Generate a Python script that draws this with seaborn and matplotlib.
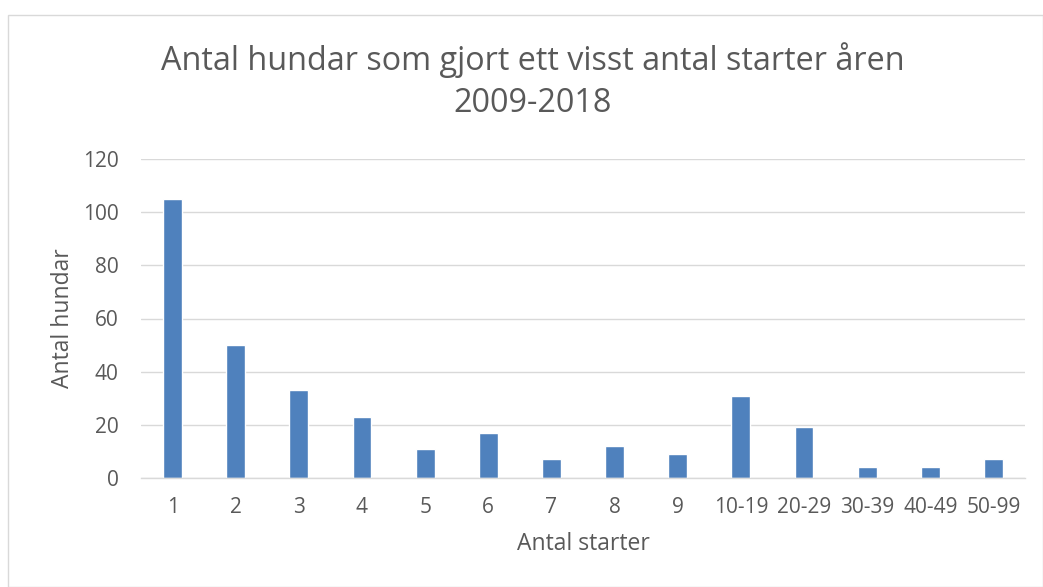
import matplotlib
matplotlib.use("Agg")
import matplotlib.pyplot as plt
import seaborn as sns
import pandas as pd

# -------------------------------
# Data
# -------------------------------
categories = ["1", "2", "3", "4", "5", "6", "7", "8", "9",
              "10-19", "20-29", "30-39", "40-49", "50-99"]
counts = [105, 50, 33, 23, 11, 17, 7, 12, 9, 31, 19, 4, 4, 7]
y_ticks = [0, 20, 40, 60, 80, 100, 120]

df = pd.DataFrame({"Antal starter": categories, "Antal hundar": counts})

# -------------------------------
# Style
# -------------------------------
sns.set_style("white")
plt.rcParams["font.family"] = ["Open Sans", "DejaVu Sans"]
text_color = "#595959"
grid_color = "#D9D9D9"

fig = plt.figure(figsize=(10.43, 5.87), dpi=100)
ax = fig.add_axes([141 / 1043, 1 - 478 / 587, (1025 - 141) / 1043, (478 - 159) / 587])

sns.barplot(data=df, x="Antal starter", y="Antal hundar", color="#4F81BD",
            width=0.3, ax=ax, saturation=1)

ax.set_ylim(0, 120)
ax.set_yticks(y_ticks)
ax.set_xlim(-0.5, len(categories) - 0.5)
ax.yaxis.grid(True, color=grid_color, linewidth=1)
ax.set_axisbelow(True)
for s in ["top", "right", "left"]:
    ax.spines[s].set_visible(False)
ax.spines["bottom"].set_color(grid_color)
ax.spines["bottom"].set_linewidth(1)
ax.tick_params(axis="both", length=0, labelsize=15, colors=text_color)
ax.tick_params(axis="y", pad=16)
ax.tick_params(axis="x", pad=14)

ax.set_xlabel("Antal starter", fontsize=16.5, color=text_color, labelpad=10)
ax.set_ylabel("Antal hundar", fontsize=16.5, color=text_color, labelpad=6)

fig.text(0.511, 1 - 60 / 587, "Antal hundar som gjort ett visst antal starter åren",
         ha="center", va="center", fontsize=23.3, color=text_color)
fig.text(0.511, 1 - 103 / 587, "2009-2018",
         ha="center", va="center", fontsize=23.3, color=text_color)

# chart border
fig.patches.append(plt.Rectangle((8 / 1043, 0), 1 - 8 / 1043, 1 - 15 / 587,
                                 transform=fig.transFigure, fill=False,
                                 edgecolor="#D9D9D9", linewidth=1))

plt.savefig("out.png", dpi=100)
